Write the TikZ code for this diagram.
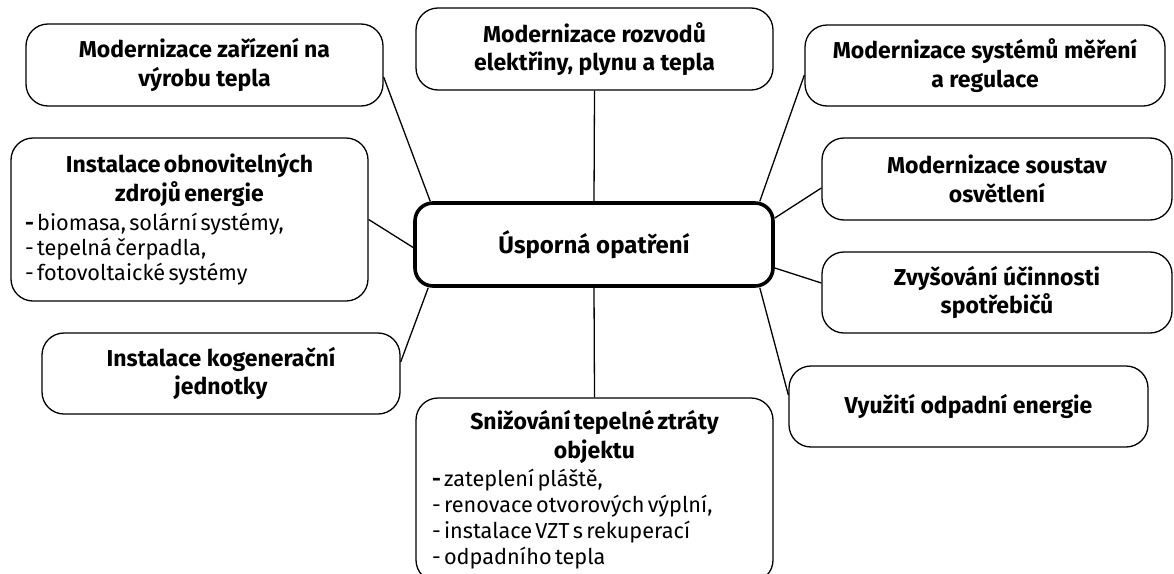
\documentclass[tikz,border=0pt]{standalone}
\usepackage{fontspec}
\setmainfont{Fira Sans}
\begin{document}
\begin{tikzpicture}[x=1pt,y=-1pt,
  box/.style={draw, line width=1.3pt, rounded corners=22pt, inner sep=0pt,
    align=center, font=\fontsize{23}{28.5}\selectfont\bfseries},
  hub/.style={draw, line width=3.6pt, rounded corners=18pt, inner sep=0pt,
    align=center, font=\fontsize{24}{28}\selectfont\bfseries},
  listbox/.style={draw, line width=1.3pt, rounded corners=22pt, inner sep=0pt},
  conn/.style={line width=1.3pt},
]
\useasboundingbox (0,0) rectangle (1174,573);
\clip (0,0) rectangle (1174,573);
% nodes
\node[hub, minimum width=358pt, minimum height=83pt] (E) at (594,244.5) {Úsporná opatření};
\node[box, minimum width=357pt, minimum height=82pt] (A) at (204.5,65) {Modernizace zařízení na\\výrobu tepla};
\node[listbox, minimum width=357pt, minimum height=163pt, text width=329pt] (B) at (189.5,219.5) {%
  {\centering\fontsize{23}{29}\selectfont\bfseries Instalace obnovitelných\\zdrojů energie\par}
  \vspace{4pt}
  {\raggedright\fontsize{21.7}{25}\selectfont \textbf{-} biomasa, solární systémy,\\- tepelná čerpadla,\\- fotovoltaické systémy\par}};
\node[box, minimum width=358pt, minimum height=81pt] (C) at (221,373.5) {Instalace kogenerační\\jednotky};
\node[box, minimum width=357pt, minimum height=82pt] (D) at (594.5,49) {Modernizace rozvodů\\elektřiny, plynu a tepla};
\node[box, minimum width=360pt, minimum height=81pt] (F) at (985,65.5) {Modernizace systémů měření\\a regulace};
\node[box, minimum width=350pt, minimum height=82pt] (G) at (997,179) {Modernizace soustav\\osvětlení};
\node[box, minimum width=350pt, minimum height=81pt] (H) at (997,292.5) {Zvyšování účinnosti\\spotřebičů};
\node[box, minimum width=359pt, minimum height=81pt] (I) at (968.5,406.5) {Využití odpadní energie};
\node[listbox, minimum width=357pt, minimum height=184pt, text width=325pt] (J) at (594.5,490) {%
  {\centering\fontsize{23}{29}\selectfont\bfseries Snižování tepelné ztráty\\objektu\par}
  \vspace{2pt}
  {\raggedright\fontsize{21.7}{26}\selectfont \textbf{-} zateplení pláště,\\- renovace otvorových výplní,\\- instalace VZT s rekuperací\\- odpadního tepla\par}};
% connectors
\draw[conn] ([yshift=-12pt]A.east) -- ([xshift=17pt]E.north west);
\draw[conn] (B.east) -- ([yshift=-3pt]E.west);
\draw[conn] ([yshift=11.5pt]C.east) -- ([xshift=15pt]E.south west);
\draw[conn] (D.south) -- (E.north);
\draw[conn] (E.south) -- (J.north);
\draw[conn] ([yshift=-9.5pt]F.west) -- ([xshift=-15pt]E.north east);
\draw[conn] ([yshift=-9pt]G.west) -- ([yshift=26.5pt]E.east);
\draw[conn] ([yshift=9.5pt]H.west) -- ([yshift=-23.5pt]E.east);
\draw[conn] ([yshift=11.5pt]I.west) -- ([xshift=-15pt]E.south east);
\end{tikzpicture}
\end{document}
